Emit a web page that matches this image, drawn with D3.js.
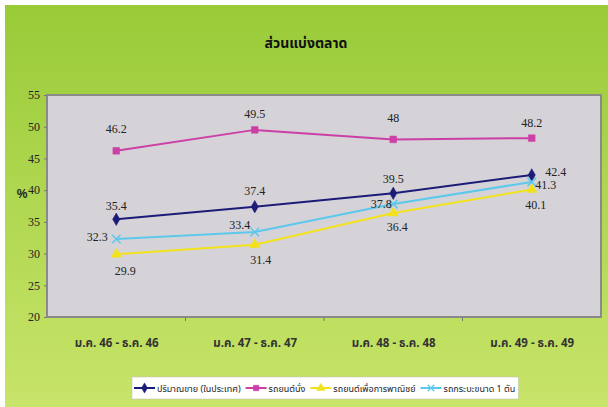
<!DOCTYPE html>
<html>
<head>
<meta charset="utf-8">
<script src="https://cdn.jsdelivr.net/npm/d3@7"></script>
<style>
  body{margin:0;background:#fff;}
  svg{display:block;}
</style>
</head>
<body>
<svg id="chart" width="608" height="407"></svg>
<script>
// ข้อมูล
var CATEGORIES=["ม.ค. 46 - ธ.ค. 46","ม.ค. 47 - ธ.ค. 47","ม.ค. 48 - ธ.ค. 48","ม.ค. 49 - ธ.ค. 49"];
var SERIES_NAMES=["ปริมาณขาย (ในประเทศ)","รถยนต์นั่ง","รถยนต์เพื่อการพาณิชย์","รถกระบะขนาด 1 ตัน"];
var SALES=[35.4,37.4,39.5,42.4];
var PASSENGER=[46.2,49.5,48,48.2];
var COMMERCIAL=[29.9,31.4,36.4,40.1];
var PICKUP=[32.3,33.4,37.8,41.3];
var Y_TICKS=[20,25,30,35,40,45,50,55];
var TITLE="ส่วนแบ่งตลาด";

// layout
var PLOT={left:47,top:95,right:601,bottom:317};
var COLORS=["#1c1c78","#cc3fa6","#f2e21c","#5cc8ec"];
var SYMBOLS=[d3.symbolDiamond,d3.symbolSquare,d3.symbolTriangle,d3.symbolTimes];
// ตำแหน่งป้ายตัวเลข (dx,dy จากจุด) ต่อซีรีส์ ต่อจุด
var LABEL_OFFSET=[
  [[0,-13],[0,-16],[0,-14],[24,-3]],
  [[0,-22],[0,-16],[0,-21],[0,-15]],
  [[9,17],[6,15],[4,14],[4,15]],
  [[-19,-2],[-15,-7],[-12,0],[14,3]]
];
var SERIF="'Liberation Serif','DejaVu Serif',serif";
var THAI="'Noto Sans Thai','Noto Sans','DejaVu Sans',sans-serif";

var svg=d3.select("#chart");
var defs=svg.append("defs");
var grad=defs.append("linearGradient").attr("id","bg").attr("x1",0).attr("y1",0).attr("x2",0).attr("y2",1);
grad.append("stop").attr("offset","0%").attr("stop-color","#99cb38");
grad.append("stop").attr("offset","100%").attr("stop-color","#c8e46a");

svg.append("rect").attr("x",5).attr("y",5).attr("width",603).attr("height",402).attr("fill","url(#bg)");

svg.append("text")
  .text(TITLE)
  .attr("x",306).attr("y",48)
  .attr("text-anchor","middle")
  .style("font-family",THAI)
  .style("font-weight","bold")
  .style("font-size","14px")
  .style("fill","#111");

var x=d3.scalePoint().domain(CATEGORIES).range([PLOT.left,PLOT.right]).padding(0.5);
var xBand=d3.scaleBand().domain(CATEGORIES).range([PLOT.left,PLOT.right]);
var y=d3.scaleLinear().domain([20,55]).range([PLOT.bottom,PLOT.top]);

svg.append("rect")
  .attr("x",PLOT.left).attr("y",PLOT.top)
  .attr("width",PLOT.right-PLOT.left).attr("height",PLOT.bottom-PLOT.top)
  .attr("fill","#d5d3d7")
  .attr("stroke","#8a8a8a").attr("stroke-width",2);

// แกน y
var yAxis=svg.append("g").attr("transform","translate("+PLOT.left+",0)")
  .call(d3.axisLeft(y).tickValues(Y_TICKS).tickSize(3).tickPadding(4));
yAxis.select(".domain").remove();
yAxis.selectAll("line").attr("stroke","#777");
yAxis.selectAll("text")
  .style("font-family",SERIF)
  .style("font-size","12px")
  .style("fill","#222");

svg.append("text").text("%")
  .attr("x",22).attr("y",198)
  .attr("text-anchor","middle")
  .style("font-family","'Liberation Sans',sans-serif")
  .style("font-weight","bold")
  .style("font-size","12px")
  .style("fill","#222");

// แกน x
var xAxis=svg.append("g").attr("transform","translate(0,"+PLOT.bottom+")")
  .call(d3.axisBottom(x).tickSize(0).tickPadding(22));
xAxis.select(".domain").remove();
xAxis.selectAll("text")
  .style("font-family",THAI)
  .style("font-weight","bold")
  .style("font-size","11.5px")
  .style("fill","#333");
svg.append("g").selectAll("line")
  .data(CATEGORIES.slice(1))
  .join("line")
  .attr("x1",function(d){return xBand(d);})
  .attr("x2",function(d){return xBand(d);})
  .attr("y1",PLOT.bottom).attr("y2",PLOT.bottom+4)
  .attr("stroke","#777");

// เส้นข้อมูล
var allSeries=[SALES,PASSENGER,COMMERCIAL,PICKUP];
var line=d3.line().x(function(d,i){return x(CATEGORIES[i]);}).y(function(d){return y(d);});

allSeries.forEach(function(values,s){
  var g=svg.append("g");
  g.append("path")
    .datum(values)
    .attr("d",line)
    .attr("fill","none")
    .attr("stroke",COLORS[s])
    .attr("stroke-width",2);
  g.selectAll("path.pt")
    .data(values)
    .join("path")
    .attr("class","pt")
    .attr("transform",function(d,i){return "translate("+x(CATEGORIES[i])+","+y(d)+")";})
    .attr("d",d3.symbol().type(SYMBOLS[s]).size(s==3?50:45))
    .attr("fill",COLORS[s])
    .attr("stroke",COLORS[s])
    .attr("stroke-width",s==3?1.5:0.5);
});

// ป้ายตัวเลข
allSeries.forEach(function(values,s){
  svg.append("g").selectAll("text")
    .data(values)
    .join("text")
    .text(function(d){return d;})
    .attr("x",function(d,i){return x(CATEGORIES[i])+LABEL_OFFSET[s][i][0];})
    .attr("y",function(d,i){return y(d)+LABEL_OFFSET[s][i][1]+4;})
    .attr("text-anchor","middle")
    .style("font-family",SERIF)
    .style("font-size","12px")
    .style("fill","#222");
});

// คำอธิบาย
var legend=svg.append("g");
var legendBox=legend.append("rect")
  .attr("y",377).attr("height",22)
  .attr("fill","#fff").attr("stroke","#bbb").attr("stroke-width",0.5);
var lx=134;
SERIES_NAMES.forEach(function(name,s){
  legend.append("line")
    .attr("x1",lx).attr("x2",lx+21)
    .attr("y1",388).attr("y2",388)
    .attr("stroke",COLORS[s]).attr("stroke-width",2);
  legend.append("path")
    .attr("transform","translate("+(lx+10.5)+",388)")
    .attr("d",d3.symbol().type(SYMBOLS[s]).size(30))
    .attr("fill",COLORS[s]).attr("stroke",COLORS[s]).attr("stroke-width",s==3?1.2:0.5);
  var t=legend.append("text").text(name)
    .attr("x",lx+23).attr("y",391.5)
    .style("font-family",THAI)
    .style("font-size","9px")
    .style("fill","#222");
  lx+=23+t.node().getComputedTextLength()+5;
});
legendBox.attr("x",132).attr("width",lx-132-2);
</script>
</body>
</html>
